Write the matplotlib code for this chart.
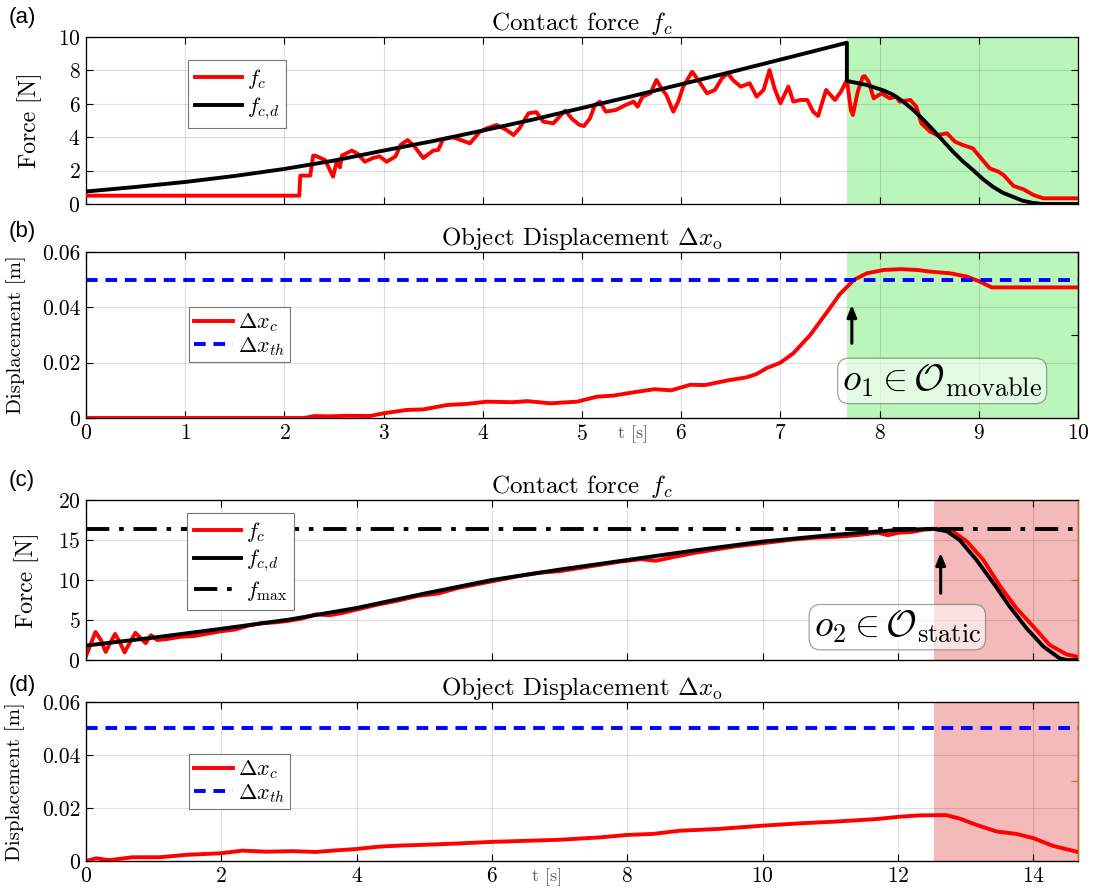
import numpy as np
import matplotlib
matplotlib.use("Agg")
import matplotlib.pyplot as plt
from matplotlib.lines import Line2D

plt.rcParams['font.family'] = 'serif'
plt.rcParams['font.serif'] = ['cmr10', 'DejaVu Serif']
plt.rcParams['mathtext.fontset'] = 'cm'
plt.rcParams['axes.unicode_minus'] = False
plt.rcParams['axes.formatter.use_mathtext'] = True
plt.rcParams['lines.solid_joinstyle'] = 'round'

# ---------------- data ----------------
# (a) contact force, movable object  (t [s], F [N])
fc_a = [(0, 0.5), (2.15, 0.5), (2.16, 1.7), (2.26, 1.7), (2.29, 2.9), (2.31, 2.9), (2.41, 2.63),
        (2.49, 1.64), (2.53, 2.6), (2.56, 2.2), (2.58, 2.9), (2.68, 3.2), (2.74, 3.0), (2.81, 2.53),
        (2.89, 2.75), (2.96, 2.85), (3.03, 2.53), (3.12, 2.85), (3.17, 3.53), (3.24, 3.83),
        (3.30, 3.53), (3.40, 2.75), (3.50, 3.2), (3.55, 3.24), (3.60, 3.89), (3.70, 3.99),
        (3.78, 3.83), (3.87, 3.63), (3.97, 4.33), (4.04, 4.53), (4.14, 4.73), (4.24, 4.43),
        (4.31, 4.13), (4.37, 4.53), (4.46, 5.43), (4.54, 5.5), (4.61, 4.93), (4.71, 4.83),
        (4.83, 5.59), (4.90, 5.1), (4.97, 4.75), (5.02, 4.67), (5.08, 5.13), (5.13, 5.93),
        (5.18, 6.13), (5.24, 5.53), (5.34, 5.63), (5.44, 5.93), (5.52, 6.13), (5.56, 5.83),
        (5.61, 6.43), (5.69, 6.63), (5.75, 7.43), (5.80, 6.93), (5.85, 6.53), (5.92, 5.53),
        (5.97, 6.13), (6.02, 7.03), (6.11, 7.92), (6.17, 7.43), (6.26, 6.63), (6.34, 6.83),
        (6.41, 7.53), (6.47, 7.83), (6.52, 7.43), (6.60, 7.03), (6.69, 7.23), (6.76, 6.43),
        (6.83, 6.83), (6.89, 8.02), (6.94, 6.93), (7.00, 6.03), (7.08, 7.03), (7.13, 6.13),
        (7.20, 6.23), (7.27, 6.23), (7.33, 5.53), (7.38, 5.27), (7.46, 6.83), (7.55, 6.23),
        (7.61, 6.73), (7.67, 7.43), (7.71, 5.63), (7.73, 5.33), (7.78, 6.73), (7.83, 7.62),
        (7.85, 7.66), (7.89, 7.32), (7.94, 6.33), (8.02, 6.63), (8.10, 6.33), (8.17, 6.43),
        (8.20, 6.13), (8.31, 6.23), (8.37, 5.83), (8.42, 4.83), (8.51, 4.33), (8.58, 4.13),
        (8.68, 4.23), (8.76, 3.73), (8.84, 3.53), (8.94, 3.33), (9.01, 2.83), (9.11, 2.13),
        (9.20, 1.93), (9.25, 1.73), (9.35, 1.08), (9.45, 0.88), (9.55, 0.54), (9.65, 0.34),
        (10.0, 0.34)]
fcd_a = [(0, 0.75), (0.5, 1.02), (1, 1.32), (1.5, 1.68), (2, 2.1), (2.5, 2.6), (3, 3.2),
         (3.5, 3.77), (4, 4.4), (4.5, 5.05), (5, 5.75), (5.5, 6.45), (6, 7.17), (6.5, 7.9),
         (7, 8.65), (7.5, 9.4), (7.67, 9.66), (7.67, 7.37), (7.87, 7.13), (8.04, 6.8),
         (8.14, 6.53), (8.24, 6.12), (8.34, 5.63), (8.44, 5.05), (8.54, 4.43), (8.64, 3.78),
         (8.74, 3.13), (8.84, 2.55), (8.94, 2.04), (9.04, 1.5), (9.14, 1.04), (9.24, 0.68),
         (9.34, 0.44), (9.44, 0.2), (9.54, 0.07), (9.64, 0.0), (10.0, 0.0)]
# (b) displacement, movable object (t [s], m)
dx_b = [(0, 0), (2.2, 0), (2.3, 0.0007), (2.46, 0.0006), (2.63, 0.0008), (2.86, 0.0007),
        (3.0, 0.0017), (3.23, 0.0029), (3.40, 0.0031), (3.64, 0.0047), (3.84, 0.0051),
        (4.04, 0.0059), (4.3, 0.0057), (4.45, 0.0061), (4.68, 0.0053), (4.95, 0.0059),
        (5.15, 0.0077), (5.32, 0.0081), (5.52, 0.0093), (5.73, 0.0104), (5.9, 0.0100),
        (6.09, 0.0120), (6.24, 0.0119), (6.47, 0.0136), (6.66, 0.0147), (6.76, 0.0159),
        (6.86, 0.0180), (7.0, 0.0200), (7.13, 0.0234), (7.30, 0.030), (7.46, 0.0378),
        (7.60, 0.0448), (7.74, 0.0499), (7.87, 0.0523), (8.04, 0.0535), (8.21, 0.0538),
        (8.38, 0.0535), (8.51, 0.0529), (8.71, 0.0523), (8.88, 0.0511), (9.01, 0.0493),
        (9.13, 0.0472), (10.0, 0.0472)]
dx_th = 0.05
t_move_a = 7.67
# (c) contact force, static object
fc_c = [(0, 0.5), (0.07, 2.0), (0.14, 3.5), (0.22, 2.5), (0.29, 1.0), (0.36, 2.2), (0.43, 3.25),
        (0.5, 2.2), (0.57, 0.95), (0.65, 2.2), (0.73, 3.4), (0.8, 2.8), (0.88, 2.1), (0.96, 3.1),
        (1.05, 2.5), (1.18, 2.6), (1.4, 2.9), (1.6, 3.0), (1.8, 3.3), (2.0, 3.6), (2.2, 3.8),
        (2.4, 4.3), (2.6, 4.6), (2.8, 4.7), (3.0, 4.9), (3.2, 5.2), (3.4, 5.7), (3.6, 5.6),
        (3.8, 5.9), (4.0, 6.3), (4.3, 6.9), (4.6, 7.4), (4.9, 8.0), (5.2, 8.3), (5.5, 9.0),
        (5.8, 9.5), (6.1, 10.0), (6.4, 10.5), (6.7, 10.9), (7.0, 11.1), (7.3, 11.5), (7.6, 11.9),
        (7.9, 12.3), (8.2, 12.6), (8.42, 12.4), (8.7, 12.9), (9.0, 13.4), (9.3, 13.8), (9.6, 14.2),
        (9.9, 14.5), (10.2, 14.8), (10.5, 15.1), (10.8, 15.3), (11.1, 15.4), (11.4, 15.6),
        (11.7, 15.9), (11.85, 15.6), (12.0, 15.9), (12.2, 16.0), (12.4, 16.3), (12.6, 16.4),
        (12.82, 16.0), (13.02, 14.8), (13.26, 12.5), (13.51, 9.2), (13.75, 6.46), (14.0, 4.17),
        (14.24, 1.88), (14.49, 0.7), (14.66, 0.4)]
fcd_c = [(0, 1.8), (1, 2.8), (2, 3.9), (3, 5.05), (4, 6.5), (5, 8.3), (6, 10.0), (7, 11.3),
         (8, 12.5), (9, 13.7), (10, 14.8), (11, 15.6), (12, 16.25), (12.52, 16.4), (12.72, 16.1),
         (12.91, 15.0), (13.16, 12.5), (13.41, 9.6), (13.65, 6.67), (13.90, 3.96), (14.15, 1.67),
         (14.39, 0.2), (14.49, 0.0), (14.66, 0.0)]
f_max = 16.4
t_static_c = 12.53
# (d) displacement, static object
dx_d = [(0, 0), (0.15, 0.001), (0.34, 0.0003), (0.69, 0.0014), (1.08, 0.0014), (1.48, 0.0023),
        (1.99, 0.0029), (2.31, 0.0039), (2.66, 0.0035), (3.05, 0.0037), (3.4, 0.0034),
        (3.64, 0.0039), (3.99, 0.0045), (4.33, 0.0054), (4.63, 0.0058), (5.0, 0.0061),
        (5.5, 0.0066), (6.0, 0.0072), (6.5, 0.0076), (7.0, 0.0080), (7.6, 0.0089),
        (7.99, 0.0098), (8.38, 0.0102), (8.77, 0.0114), (9.36, 0.0121), (9.99, 0.0133),
        (10.55, 0.0142), (11.04, 0.0148), (11.68, 0.0158), (12.03, 0.0167), (12.32, 0.0172),
        (12.71, 0.0173), (12.91, 0.016), (13.16, 0.0136), (13.46, 0.0111), (13.75, 0.0102),
        (14.0, 0.0086), (14.29, 0.0057), (14.64, 0.0035)]

def xy(pts):
    a = np.array(pts, dtype=float)
    return a[:, 0], a[:, 1]

# ---------------- figure ----------------
fig = plt.figure(figsize=(10.93, 8.92), dpi=100)
L, W = 0.0787, 0.9076
ax_a = fig.add_axes([L, 0.7713, W, 0.1872])
ax_b = fig.add_axes([L, 0.5314, W, 0.1861])
ax_c = fig.add_axes([L, 0.2601, W, 0.1794])
ax_d = fig.add_axes([L, 0.0348, W, 0.1783])

GREEN = '#BAF5BA'
PINK = '#F4B9B9'
ORANGE = '#C9721E'
LW = 2.8
TICK_FS = 15.5
FORCE_FS = 17
DISP_FS = 15
TITLE_FS = 18
LEG_FS = 16
ANN_FS = 27
DASH = (0, (3.0, 2.0))
DASHDOT = (0, (6, 2.5, 1.2, 2.5))

def style(ax, xlim, ylim, yticks, xticks, xlabels=True, mirror_right=True):
    ax.set_xlim(*xlim)
    ax.set_ylim(*ylim)
    ax.set_yticks(yticks)
    ax.set_xticks(xticks)
    ax.grid(True, color='k', alpha=0.13, lw=0.8)
    ax.tick_params(direction='in', top=True, right=mirror_right, labelsize=TICK_FS,
                   length=5, width=0.8, pad=4)
    if not xlabels:
        ax.tick_params(labelbottom=False)
    for s in ax.spines.values():
        s.set_linewidth(0.9)

def twin_ticks(ax, color):
    tw = ax.twinx()
    tw.set_ylim(0, 1)
    tw.set_yticks([0, 0.5, 1])
    tw.tick_params(direction='in', labelright=False, length=5, width=0.8, colors=color)
    tw.spines['right'].set_color(color)
    tw.spines['right'].set_linewidth(0.9)
    return tw

def legend(ax, handles, labels, anchor, fs=LEG_FS, hl=2.1, ls=0.2, bp=0.3):
    lg = ax.legend(handles, labels, loc='upper left', bbox_to_anchor=anchor,
                   borderaxespad=0, fontsize=fs, fancybox=False, framealpha=1,
                   edgecolor='#777777', handlelength=hl, handletextpad=0.25,
                   labelspacing=ls, borderpad=bp)
    lg.get_frame().set_linewidth(0.8)
    return lg

ARROW = dict(arrowstyle='-|>,head_length=0.7,head_width=0.28', color='k', lw=2.2)
BOX = dict(boxstyle='round,pad=0.12,rounding_size=0.3', fc='white', alpha=0.6,
           ec='#666666', lw=0.9)

# (a)
ax_a.axvspan(t_move_a, 10, color=GREEN, lw=0, zorder=1)
t, v = xy(fc_a)
ax_a.plot(t, v, color='#FF0000', lw=LW, zorder=3)
t, v = xy(fcd_a)
ax_a.plot(t, v, color='k', lw=LW, zorder=4)
style(ax_a, (0, 10), (0, 10), [0, 2, 4, 6, 8, 10], range(0, 11), xlabels=False)
ax_a.set_ylabel('Force [N]', fontsize=FORCE_FS)
ax_a.yaxis.set_label_coords(-0.044, 0.5)
ax_a.set_title(r'Contact force $\,f_c$', fontsize=TITLE_FS, pad=5)
legend(ax_a, [Line2D([], [], color='#FF0000', lw=LW), Line2D([], [], color='k', lw=LW)],
       [r'$f_c$', r'$f_{c,\!d}$'], (0.103, 0.862))

# (b)
ax_b.axvspan(t_move_a, 10, color=GREEN, lw=0, zorder=1)
t, v = xy(dx_b)
ax_b.plot(t, v, color='#FF0000', lw=LW, zorder=3)
ax_b.axhline(dx_th, color='#0000FF', lw=LW, ls=DASH, zorder=3)
style(ax_b, (0, 10), (0, 0.06), [0, 0.02, 0.04, 0.06], range(0, 11), mirror_right=False)
ax_b.set_yticklabels(['0', '0.02', '0.04', '0.06'])
ax_b.set_ylabel('Displacement [m]', fontsize=DISP_FS)
ax_b.yaxis.set_label_coords(-0.061, 0.5)
ax_b.set_title(r'Object Displacement $\Delta x_{\mathrm{o}}$', fontsize=TITLE_FS, pad=5)
ax_b.set_xlabel('t [s]', fontsize=13, color='#555555')
ax_b.xaxis.set_label_coords(0.551, -0.045)
legend(ax_b, [Line2D([], [], color='#FF0000', lw=LW),
              Line2D([], [], color='#0000FF', lw=LW, ls=DASH)],
       [r'$\Delta x_c$', r'$\Delta x_{th}$'], (0.104, 0.669), fs=16, hl=1.75, ls=0.05, bp=0.2)
ax_b.annotate('', xy=(7.72, 0.0419), xytext=(7.72, 0.026), arrowprops=ARROW, zorder=6)
ax_b.text(8.63, 0.0134, r'$o_1 \in \mathcal{O}_{\mathrm{movable}}$', fontsize=ANN_FS,
          ha='center', va='center', zorder=7, bbox=BOX)
twin_ticks(ax_b, 'k')

# (c)
ax_c.axvspan(t_static_c, 14.66, color=PINK, lw=0, zorder=1)
t, v = xy(fc_c)
ax_c.plot(t, v, color='#FF0000', lw=LW, zorder=3)
t, v = xy(fcd_c)
ax_c.plot(t, v, color='k', lw=LW, zorder=4)
ax_c.axhline(f_max, color='k', lw=LW, ls=DASHDOT, zorder=3)
style(ax_c, (0, 14.66), (0, 20), [0, 5, 10, 15, 20], range(0, 15, 2), xlabels=False,
      mirror_right=False)
ax_c.set_ylabel('Force [N]', fontsize=FORCE_FS)
ax_c.yaxis.set_label_coords(-0.047, 0.5)
ax_c.set_title(r'Contact force $\,f_c$', fontsize=TITLE_FS, pad=5)
legend(ax_c, [Line2D([], [], color='#FF0000', lw=LW), Line2D([], [], color='k', lw=LW),
              Line2D([], [], color='k', lw=LW, ls=DASHDOT)],
       [r'$f_c$', r'$f_{c,\!d}$', r'$f_{\max}$'], (0.102, 0.919))
ax_c.annotate('', xy=(12.63, 13.75), xytext=(12.63, 8.0), arrowprops=ARROW, zorder=6)
ax_c.text(11.99, 4.1, r'$o_2 \in \mathcal{O}_{\mathrm{static}}$', fontsize=ANN_FS,
          ha='center', va='center', zorder=7, bbox=BOX)
twin_ticks(ax_c, ORANGE)

# (d)
ax_d.axvspan(t_static_c, 14.66, color=PINK, lw=0, zorder=1)
t, v = xy(dx_d)
ax_d.plot(t, v, color='#FF0000', lw=LW, zorder=3)
ax_d.axhline(dx_th, color='#0000FF', lw=LW, ls=DASH, zorder=3)
style(ax_d, (0, 14.66), (0, 0.06), [0, 0.02, 0.04, 0.06], range(0, 15, 2), mirror_right=False)
ax_d.set_yticklabels(['0', '0.02', '0.04', '0.06'])
ax_d.set_ylabel('Displacement [m]', fontsize=DISP_FS)
ax_d.yaxis.set_label_coords(-0.062, 0.5)
ax_d.set_title(r'Object Displacement $\Delta x_{\mathrm{o}}$', fontsize=TITLE_FS, pad=5)
ax_d.set_xlabel('t [s]', fontsize=13, color='#555555')
ax_d.xaxis.set_label_coords(0.465, -0.045)
legend(ax_d, [Line2D([], [], color='#FF0000', lw=LW),
              Line2D([], [], color='#0000FF', lw=LW, ls=DASH)],
       [r'$\Delta x_c$', r'$\Delta x_{th}$'], (0.104, 0.673), fs=16, hl=1.75, ls=0.05, bp=0.2)
twin_ticks(ax_d, ORANGE)

# panel labels
for lab, y in [('(a)', 0.980), ('(b)', 0.740), ('(c)', 0.461), ('(d)', 0.231)]:
    fig.text(0.008, y, lab, fontsize=16, family='Liberation Sans', va='center', ha='left')

fig.savefig('out.png', dpi=100)
